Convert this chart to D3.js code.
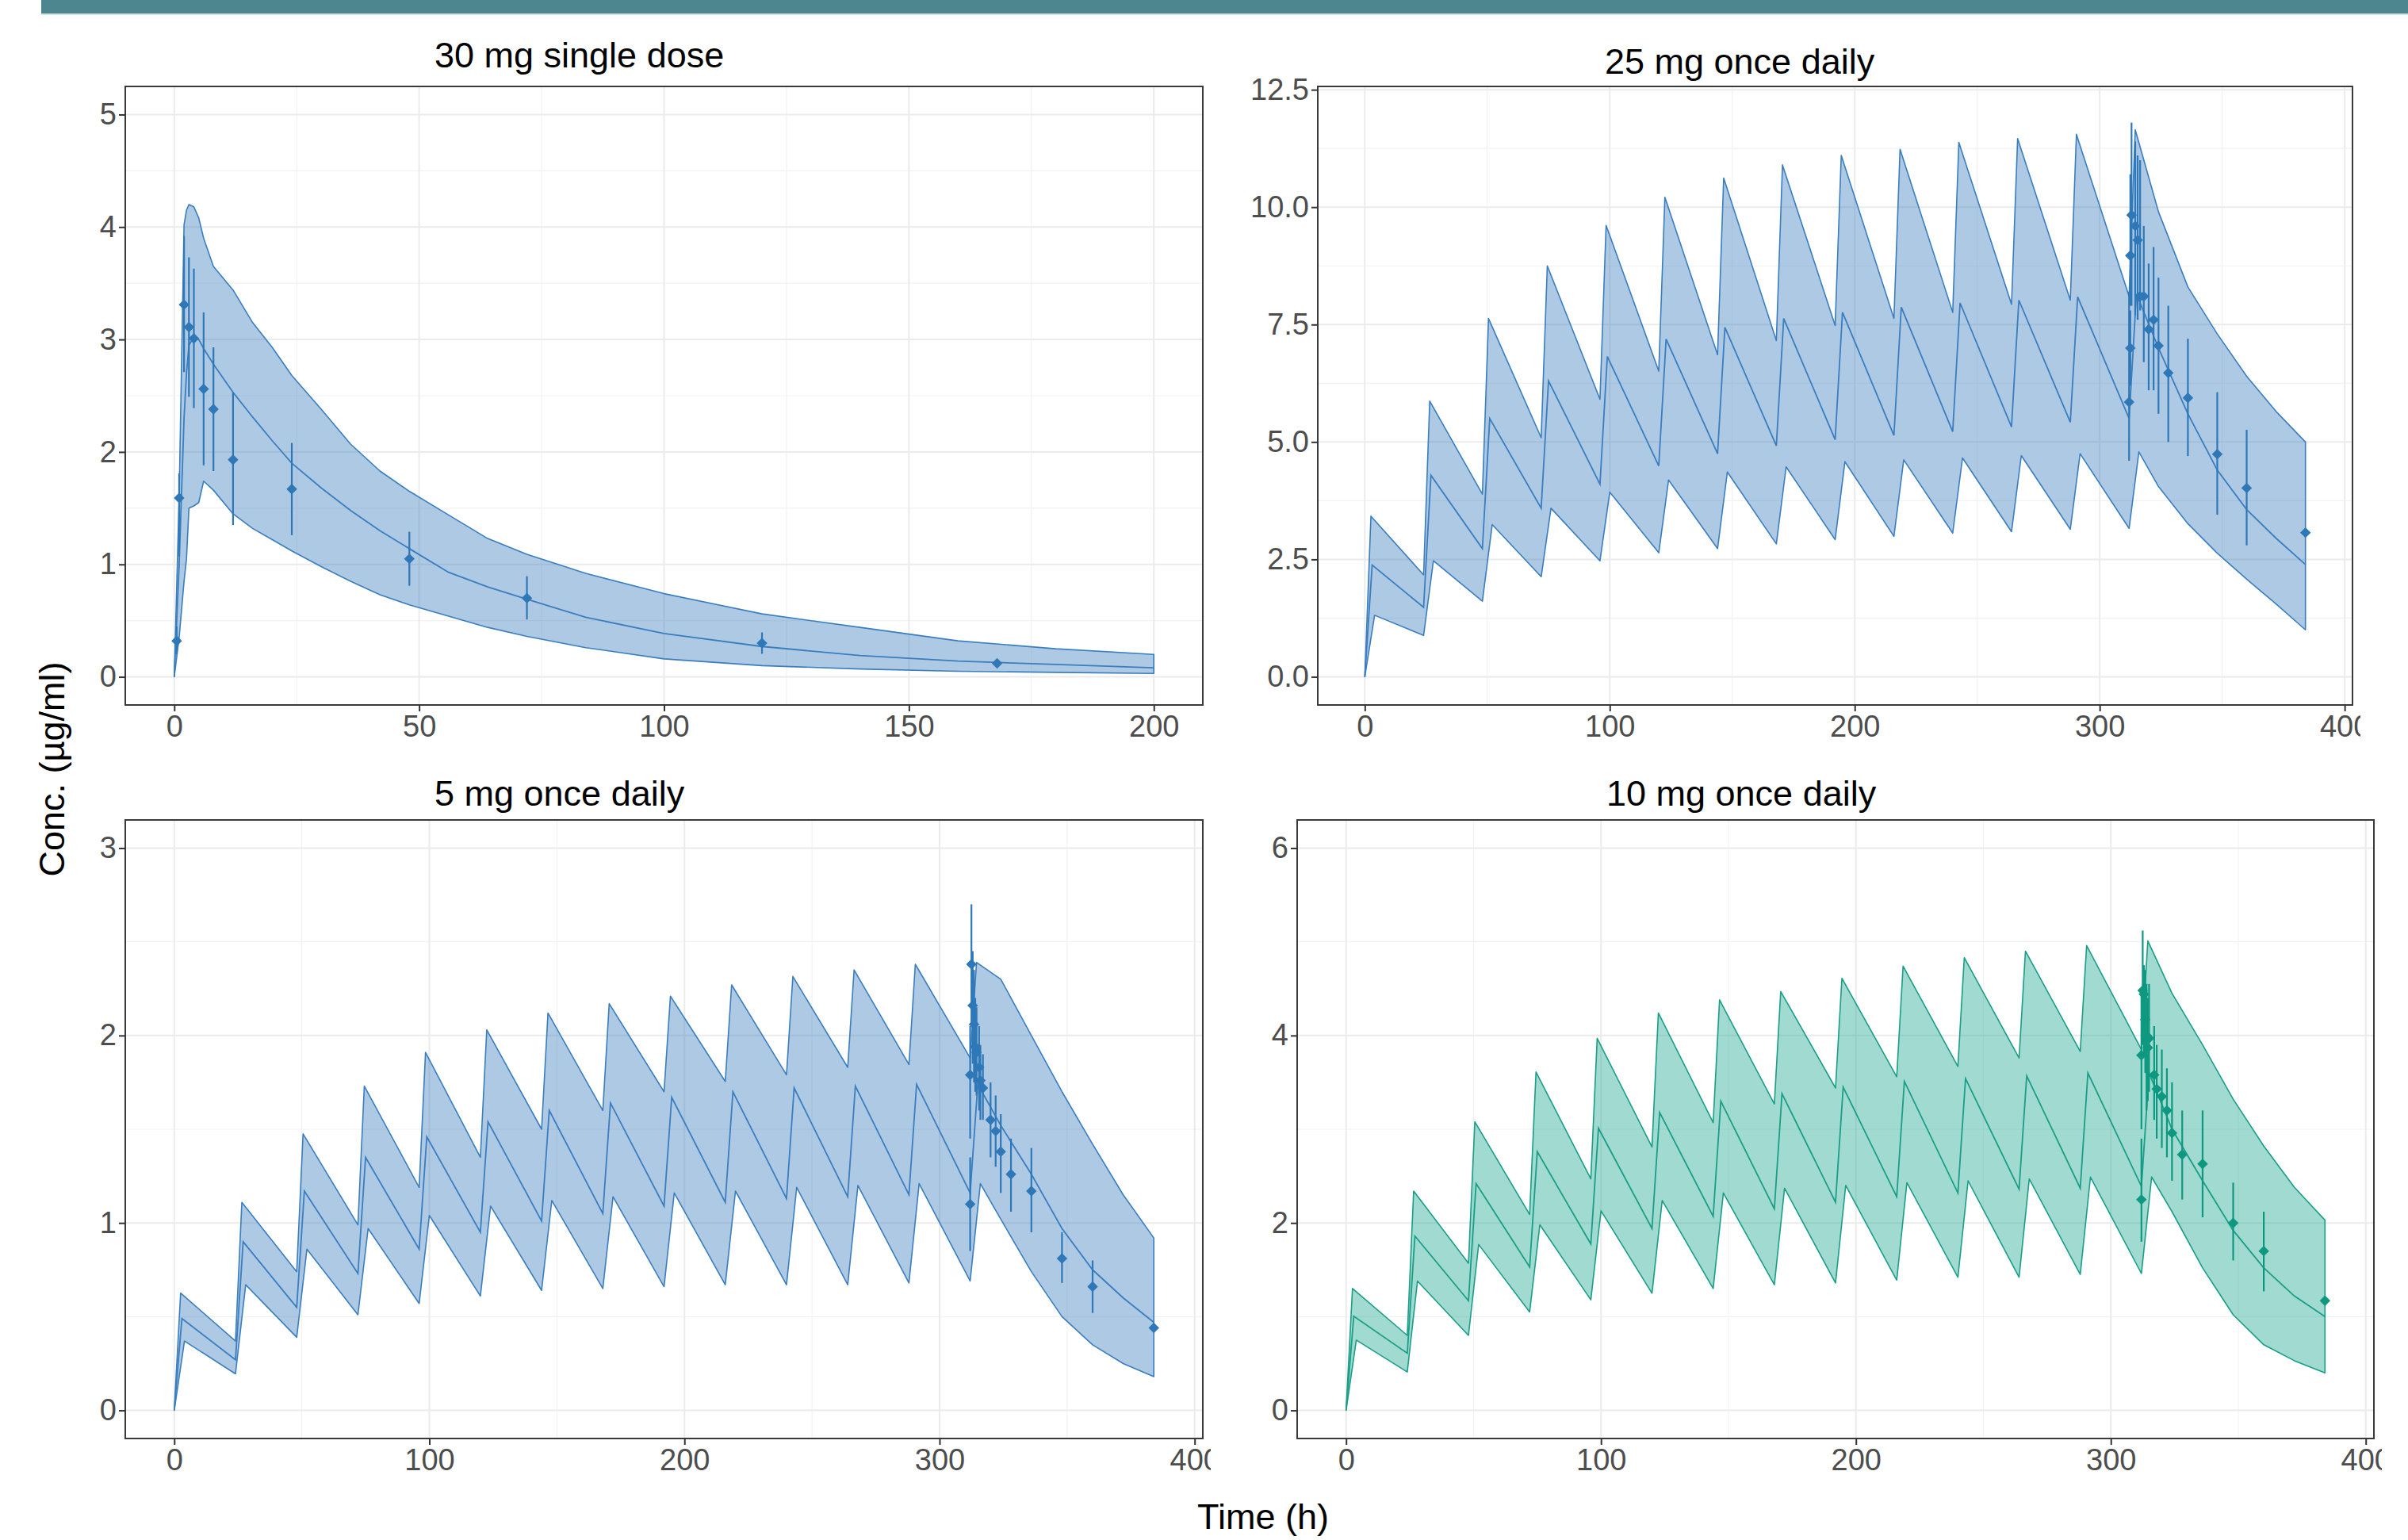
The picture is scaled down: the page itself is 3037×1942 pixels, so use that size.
<!DOCTYPE html>
<html>
<head>
<meta charset="utf-8">
<script src="https://cdn.jsdelivr.net/npm/d3@7"></script>
<style>
  body { margin: 0; background: #fff; }
  svg { display: block; }
  text { font-family: "Liberation Sans", Arial, sans-serif; }
</style>
</head>
<body>
<svg id="chart"></svg>
<script>
// ---- data ----
const doseTimes = [0, 24, 48, 72, 96, 120, 144, 168, 192, 216, 240, 264, 288, 312];
const washTimes = [324, 336, 348, 360, 372, 384];
const peakLag = { hi: 2.5, med: 3, lo: 4 };

// 30 mg single dose
const tA   = [0, 1, 2, 2.5, 3, 4, 5, 6, 8, 12, 16, 20, 24, 30, 36, 42, 48, 56, 64, 72, 84, 100, 120, 140, 160, 180, 200];
const hiA  = [0, 1.6, 4.02, 4.15, 4.2, 4.18, 4.08, 3.9, 3.65, 3.44, 3.15, 2.93, 2.68, 2.38, 2.07, 1.83, 1.65, 1.44, 1.23, 1.09, 0.92, 0.74, 0.56, 0.44, 0.32, 0.25, 0.2];
const medA = [0, 1.0, 2.3, 2.7, 2.95, 3.02, 3.0, 2.92, 2.78, 2.53, 2.31, 2.1, 1.9, 1.68, 1.48, 1.3, 1.14, 0.93, 0.8, 0.69, 0.53, 0.385, 0.27, 0.19, 0.14, 0.11, 0.08];
const loA  = [0, 0.35, 0.85, 1.05, 1.5, 1.52, 1.55, 1.74, 1.66, 1.45, 1.32, 1.22, 1.12, 0.98, 0.85, 0.73, 0.64, 0.54, 0.44, 0.36, 0.26, 0.16, 0.1, 0.07, 0.05, 0.04, 0.03];
const obsAT  = [0.5, 1, 2, 3, 4, 6, 8, 12, 24, 48, 72, 120, 168];
const obsAV  = [0.32, 1.59, 3.31, 3.11, 3.01, 2.56, 2.38, 1.93, 1.67, 1.05, 0.70, 0.30, 0.12];
const obsALo = [0.2, 1.07, 2.71, 2.49, 2.39, 1.88, 1.83, 1.35, 1.26, 0.81, 0.51, 0.205, 0.10];
const obsAHi = [0.45, 1.81, 3.92, 3.73, 3.63, 3.24, 2.93, 2.53, 2.08, 1.29, 0.895, 0.395, 0.14];

// 25 mg once daily
const hi25Peak   = [3.42, 5.87, 7.63, 8.75, 9.61, 10.21, 10.62, 10.9, 11.1, 11.23, 11.38, 11.46, 11.55, 11.65];
const hi25Trough = [2.17, 3.89, 5.09, 5.91, 6.51, 6.86, 7.16, 7.48, 7.63, 7.76, 7.93, 8.02, 8.1];
const hi25Wash   = [9.9, 8.3, 7.3, 6.4, 5.65, 5.0];
const med25Peak   = [2.38, 4.29, 5.5, 6.3, 6.82, 7.19, 7.44, 7.63, 7.76, 7.87, 7.96, 8.02, 8.09, 8.15];
const med25Trough = [1.48, 2.73, 3.59, 4.1, 4.49, 4.75, 4.92, 5.05, 5.14, 5.22, 5.32, 5.42, 5.5];
const med25Wash   = [7.0, 5.6, 4.4, 3.56, 2.95, 2.39];
const lo25Peak   = [1.31, 2.47, 3.24, 3.59, 3.93, 4.19, 4.36, 4.47, 4.58, 4.62, 4.66, 4.71, 4.75, 4.79];
const lo25Trough = [0.88, 1.61, 2.13, 2.47, 2.64, 2.73, 2.83, 2.92, 2.99, 3.06, 3.09, 3.14, 3.16];
const lo25Wash   = [4.05, 3.26, 2.63, 2.08, 1.55, 1.0];
const obs25T  = [312, 312.5, 312.5, 313, 314.5, 315.5, 316.5, 318, 320, 322, 324, 328, 336, 348, 360, 384];
const obs25V  = [5.85, 7.0, 8.97, 9.83, 9.6, 9.3, 8.1, 8.1, 7.4, 7.6, 7.05, 6.47, 5.94, 4.74, 4.02, 3.07];
const obs25Lo = [4.6, 6.2, 7.9, 7.9, 7.7, 7.6, 7.8, 6.7, 6.1, 6.1, 5.6, 5.0, 4.7, 3.45, 2.8, 3.02];
const obs25Hi = [8.2, 7.8, 10.7, 11.8, 11.4, 11.1, 11.0, 9.6, 8.8, 9.15, 8.5, 7.9, 7.2, 6.06, 5.26, 3.12];

// 5 mg once daily
const hi5Peak   = [0.626, 1.11, 1.475, 1.73, 1.91, 2.03, 2.12, 2.17, 2.21, 2.27, 2.315, 2.35, 2.38, 2.39];
const hi5Trough = [0.37, 0.74, 0.99, 1.19, 1.35, 1.5, 1.6, 1.7, 1.755, 1.79, 1.83, 1.845, 1.88];
const hi5Wash   = [2.3, 2.0, 1.7, 1.42, 1.15, 0.92];
const med5Peak   = [0.49, 0.9, 1.17, 1.35, 1.46, 1.54, 1.6, 1.64, 1.67, 1.7, 1.72, 1.73, 1.74, 1.74];
const med5Trough = [0.27, 0.55, 0.73, 0.86, 0.95, 1.01, 1.05, 1.09, 1.11, 1.13, 1.14, 1.15, 1.16];
const med5Wash   = [1.52, 1.26, 0.97, 0.75, 0.6, 0.47];
const lo5Peak   = [0.37, 0.67, 0.86, 0.97, 1.04, 1.09, 1.12, 1.14, 1.16, 1.17, 1.19, 1.2, 1.21, 1.21];
const lo5Trough = [0.195, 0.39, 0.51, 0.57, 0.61, 0.64, 0.65, 0.66, 0.67, 0.67, 0.67, 0.68, 0.69];
const lo5Wash   = [1.02, 0.74, 0.5, 0.35, 0.25, 0.18];
const obs5T  = [312, 312, 312.5, 313, 313.5, 314, 314.5, 315.5, 316, 317, 320, 322, 324, 328, 336, 348, 360, 384];
const obs5V  = [1.10, 1.79, 2.38, 2.16, 2.06, 1.94, 1.91, 1.83, 1.76, 1.72, 1.55, 1.49, 1.38, 1.26, 1.17, 0.81, 0.66, 0.44];
const obs5Lo = [0.85, 1.45, 2.05, 1.85, 1.75, 1.7, 1.68, 1.6, 1.55, 1.55, 1.35, 1.3, 1.16, 1.06, 0.95, 0.68, 0.52, 0.42];
const obs5Hi = [1.35, 2.05, 2.7, 2.45, 2.35, 2.2, 2.15, 2.05, 1.95, 1.9, 1.75, 1.68, 1.58, 1.45, 1.4, 0.95, 0.8, 0.46];

// 10 mg once daily
const hi10Peak   = [1.3, 2.34, 3.08, 3.61, 3.97, 4.24, 4.38, 4.47, 4.61, 4.74, 4.83, 4.9, 4.96, 5.01];
const hi10Trough = [0.8, 1.57, 2.09, 2.47, 2.81, 3.07, 3.27, 3.44, 3.56, 3.67, 3.76, 3.83, 3.85];
const hi10Wash   = [4.45, 3.9, 3.32, 2.82, 2.38, 2.03];
const med10Peak   = [1.005, 1.86, 2.42, 2.76, 3.01, 3.18, 3.3, 3.38, 3.45, 3.51, 3.54, 3.57, 3.6, 3.6];
const med10Trough = [0.61, 1.17, 1.53, 1.775, 1.94, 2.07, 2.15, 2.22, 2.28, 2.32, 2.36, 2.37, 2.39];
const med10Wash   = [3.0, 2.45, 1.92, 1.52, 1.22, 1.0];
const lo10Peak   = [0.75, 1.38, 1.77, 1.98, 2.13, 2.24, 2.32, 2.37, 2.4, 2.43, 2.45, 2.47, 2.49, 2.49];
const lo10Trough = [0.41, 0.8, 1.05, 1.18, 1.25, 1.3, 1.34, 1.36, 1.39, 1.42, 1.42, 1.45, 1.46];
const lo10Wash   = [2.12, 1.52, 1.02, 0.7, 0.53, 0.4];
const obs10T  = [312, 312, 312.5, 313, 313.5, 314, 314.5, 315, 317, 318, 320, 322, 324, 328, 336, 348, 360, 384];
const obs10V  = [2.25, 3.79, 4.48, 4.44, 4.17, 4.0, 3.87, 3.97, 3.58, 3.43, 3.35, 3.2, 2.96, 2.73, 2.63, 2.0, 1.7, 1.17];
const obs10Lo = [1.8, 3.0, 3.9, 3.8, 3.6, 3.2, 3.3, 3.4, 3.1, 2.9, 2.8, 2.7, 2.45, 2.25, 2.06, 1.6, 1.27, 1.14];
const obs10Hi = [2.9, 4.5, 5.12, 4.75, 4.7, 4.55, 4.4, 4.55, 4.1, 3.9, 3.85, 3.65, 3.5, 3.2, 3.2, 2.43, 2.12, 1.2];

// ticks
const xTicksA = [0, 50, 100, 150, 200];
const xMinorA = [25, 75, 125, 175];
const xTicksM = [0, 100, 200, 300, 400];
const xMinorM = [50, 150, 250, 350];
const yTicksA = [0, 1, 2, 3, 4, 5];
const yMinorA = [0.5, 1.5, 2.5, 3.5, 4.5];
const yTicks25 = [0, 2.5, 5, 7.5, 10, 12.5];
const yMinor25 = [1.25, 3.75, 6.25, 8.75, 11.25];
const yTicks5 = [0, 1, 2, 3];
const yMinor5 = [0.5, 1.5, 2.5];
const yTicks10 = [0, 2, 4, 6];
const yMinor10 = [1, 3, 5];

// ---- helpers ----
const zip = (ts, vs) => ts.map((t, i) => [t, vs[i]]);

function doseCurve(peaks, troughs, lag, wash) {
  const pts = [[0, 0]];
  doseTimes.forEach((t0, i) => {
    if (i > 0) pts.push([t0, troughs[i - 1]]);
    pts.push([t0 + lag, peaks[i]]);
  });
  washTimes.forEach((t, i) => pts.push([t, wash[i]]));
  return pts;
}

const blue = { fill: "#3f7fbf", line: "#3a7ebf", point: "#2f78b8" };
const green = { fill: "#1fa68e", line: "#1a9e87", point: "#0f9880" };

const panels = [
  {
    title: "30 mg single dose", left: 158, right: 1517, top: 109, bottom: 889, clip: 3037,
    titleX: 548, titleY: 85, xDomain: [-10, 210], yDomain: [-0.25, 5.25],
    xTicks: xTicksA, xMinor: xMinorA, yTicks: yTicksA, yMinor: yMinorA, yFmt: d3.format("d"),
    hi: zip(tA, hiA), med: zip(tA, medA), lo: zip(tA, loA),
    obs: obsAT.map((t, i) => ({ t, v: obsAV[i], lo: obsALo[i], hi: obsAHi[i] })), col: blue
  },
  {
    title: "25 mg once daily", left: 1662, right: 2967, top: 109, bottom: 889, clip: 2977,
    titleX: 2024, titleY: 93, xDomain: [-19.2, 403.2], yDomain: [-0.6, 12.57],
    xTicks: xTicksM, xMinor: xMinorM, yTicks: yTicks25, yMinor: yMinor25, yFmt: d3.format(".1f"),
    hi: doseCurve(hi25Peak, hi25Trough, peakLag.hi, hi25Wash),
    med: doseCurve(med25Peak, med25Trough, peakLag.med, med25Wash),
    lo: doseCurve(lo25Peak, lo25Trough, peakLag.lo, lo25Wash),
    obs: obs25T.map((t, i) => ({ t, v: obs25V[i], lo: obs25Lo[i], hi: obs25Hi[i] })), col: blue
  },
  {
    title: "5 mg once daily", left: 158, right: 1517, top: 1034, bottom: 1814, clip: 1527,
    titleX: 548, titleY: 1016, xDomain: [-19.2, 403.2], yDomain: [-0.15, 3.15],
    xTicks: xTicksM, xMinor: xMinorM, yTicks: yTicks5, yMinor: yMinor5, yFmt: d3.format("d"),
    hi: doseCurve(hi5Peak, hi5Trough, peakLag.hi, hi5Wash),
    med: doseCurve(med5Peak, med5Trough, peakLag.med, med5Wash),
    lo: doseCurve(lo5Peak, lo5Trough, peakLag.lo, lo5Wash),
    obs: obs5T.map((t, i) => ({ t, v: obs5V[i], lo: obs5Lo[i], hi: obs5Hi[i] })), col: blue
  },
  {
    title: "10 mg once daily", left: 1636, right: 2994, top: 1034, bottom: 1814, clip: 3004,
    titleX: 2026, titleY: 1016, xDomain: [-19.2, 403.2], yDomain: [-0.3, 6.3],
    xTicks: xTicksM, xMinor: xMinorM, yTicks: yTicks10, yMinor: yMinor10, yFmt: d3.format("d"),
    hi: doseCurve(hi10Peak, hi10Trough, peakLag.hi, hi10Wash),
    med: doseCurve(med10Peak, med10Trough, peakLag.med, med10Wash),
    lo: doseCurve(lo10Peak, lo10Trough, peakLag.lo, lo10Wash),
    obs: obs10T.map((t, i) => ({ t, v: obs10V[i], lo: obs10Lo[i], hi: obs10Hi[i] })), col: green
  }
];

// ---- drawing ----
const W = 3037, H = 1942;
const svg = d3.select("#chart").attr("width", W).attr("height", H);
svg.append("rect").attr("width", W).attr("height", H).attr("fill", "#fff");
svg.append("rect").attr("x", 52).attr("y", 0).attr("width", W - 52).attr("height", 17).attr("fill", "#4d868e");
svg.append("rect").attr("x", 52).attr("y", 17).attr("width", W - 52).attr("height", 2).attr("fill", "#d3e3e5");

const diamond = d3.symbol().type(d3.symbolDiamond2 || d3.symbolDiamond).size(115);

panels.forEach((p, k) => {
  svg.append("clipPath").attr("id", "clip" + k)
    .append("rect").attr("x", 0).attr("y", 0).attr("width", p.clip).attr("height", H);
  const g = svg.append("g").attr("clip-path", `url(#clip${k})`);

  const x = d3.scaleLinear().domain(p.xDomain).range([p.left, p.right]);
  const y = d3.scaleLinear().domain(p.yDomain).range([p.bottom, p.top]);

  // grid
  const grid = g.append("g");
  grid.selectAll(".vmin").data(p.xMinor).join("line")
    .attr("x1", d => x(d)).attr("x2", d => x(d)).attr("y1", p.top).attr("y2", p.bottom)
    .attr("stroke", "#f2f2f2").attr("stroke-width", 1.2);
  grid.selectAll(".hmin").data(p.yMinor).join("line")
    .attr("y1", d => y(d)).attr("y2", d => y(d)).attr("x1", p.left).attr("x2", p.right)
    .attr("stroke", "#f2f2f2").attr("stroke-width", 1.2);
  grid.selectAll(".vmaj").data(p.xTicks.filter(d => x(d) < p.right)).join("line")
    .attr("x1", d => x(d)).attr("x2", d => x(d)).attr("y1", p.top).attr("y2", p.bottom)
    .attr("stroke", "#ebebeb").attr("stroke-width", 2);
  grid.selectAll(".hmaj").data(p.yTicks).join("line")
    .attr("y1", d => y(d)).attr("y2", d => y(d)).attr("x1", p.left).attr("x2", p.right)
    .attr("stroke", "#ebebeb").attr("stroke-width", 2);

  const line = d3.line().x(d => x(d[0])).y(d => y(d[1]));

  // ribbon (upper forward, lower back)
  const ring = p.hi.concat(p.lo.slice().reverse());
  g.append("path").attr("d", line(ring) + "Z")
    .attr("fill", p.col.fill).attr("fill-opacity", 0.42)
    .attr("stroke", p.col.line).attr("stroke-width", 1.6).attr("stroke-linejoin", "round");

  // median
  g.append("path").attr("d", line(p.med))
    .attr("fill", "none").attr("stroke", p.col.line).attr("stroke-width", 1.8);

  // observations
  g.selectAll(".err").data(p.obs).join("line")
    .attr("x1", d => x(d.t)).attr("x2", d => x(d.t))
    .attr("y1", d => y(d.lo)).attr("y2", d => y(d.hi))
    .attr("stroke", p.col.point).attr("stroke-width", 2.2);
  g.selectAll(".pt").data(p.obs).join("path")
    .attr("d", diamond)
    .attr("transform", d => `translate(${x(d.t)},${y(d.v)})`)
    .attr("fill", p.col.point);

  // border
  g.append("rect").attr("x", p.left).attr("y", p.top)
    .attr("width", p.right - p.left).attr("height", p.bottom - p.top)
    .attr("fill", "none").attr("stroke", "#3a3a3a").attr("stroke-width", 2);

  // axes
  const styleAxis = sel => {
    sel.select(".domain").remove();
    sel.selectAll("line").attr("stroke", "#333").attr("stroke-width", 2);
    sel.selectAll("text").attr("font-size", 38).attr("fill", "#4d4d4d")
      .attr("font-family", "Liberation Sans, Arial, sans-serif");
  };
  g.append("g").attr("transform", `translate(0,${p.bottom})`)
    .call(d3.axisBottom(x).tickValues(p.xTicks).tickSize(8).tickPadding(5).tickFormat(d3.format("d")))
    .call(styleAxis);
  g.append("g").attr("transform", `translate(${p.left},0)`)
    .call(d3.axisLeft(y).tickValues(p.yTicks).tickSize(8).tickPadding(3).tickFormat(p.yFmt))
    .call(styleAxis);

  // title
  g.append("text").attr("x", p.titleX).attr("y", p.titleY)
    .attr("font-size", 45).attr("fill", "#000").text(p.title);
});

// shared axis titles
svg.append("text").attr("transform", "translate(81,970) rotate(-90)")
  .attr("text-anchor", "middle").attr("font-size", 45).attr("fill", "#000")
  .text("Conc. (µg/ml)");
svg.append("text").attr("x", 1593).attr("y", 1928)
  .attr("text-anchor", "middle").attr("font-size", 45).attr("fill", "#000")
  .text("Time (h)");
</script>
</body>
</html>
